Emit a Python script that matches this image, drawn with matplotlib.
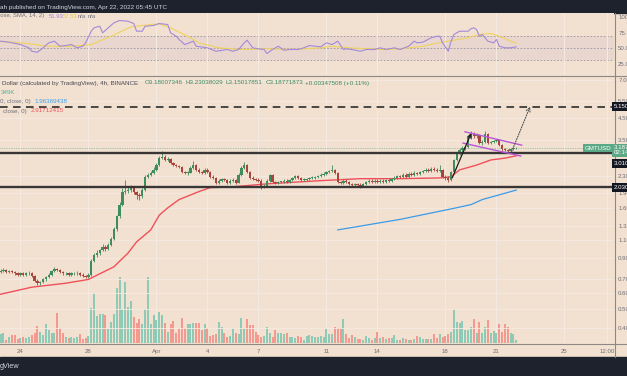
import matplotlib

matplotlib.use("Agg")
import matplotlib.pyplot as plt
import numpy as np
from matplotlib.lines import Line2D
from matplotlib.patches import Rectangle
from matplotlib.ticker import NullLocator
from matplotlib.transforms import blended_transform_factory


# 4h candles, Mar 22 20:00 UTC .. Apr 22 04:00 UTC
firstOpen = 0.76
closes = [
    0.77, 0.78, 0.76, 0.77, 0.76, 0.75, 0.74, 0.75, 0.74, 0.75,
    0.75, 0.73, 0.69, 0.67, 0.68, 0.70, 0.72, 0.74, 0.77, 0.79,
    0.78, 0.76, 0.75, 0.75, 0.74, 0.75, 0.75, 0.75, 0.74, 0.73,
    0.72, 0.74, 0.87, 0.93, 0.95, 0.98, 1.02, 0.99, 1.04, 1.12,
    1.25, 1.45, 1.66, 1.93, 1.95, 1.97, 2.00, 1.93, 1.85, 1.83,
    1.97, 2.29, 2.34, 2.40, 2.48, 2.62, 2.84, 2.88, 2.78, 2.81,
    2.68, 2.62, 2.59, 2.57, 2.42, 2.40, 2.40, 2.54, 2.62, 2.48,
    2.42, 2.40, 2.48, 2.42, 2.29, 2.26, 2.14, 2.19, 2.24, 2.21,
    2.14, 2.19, 2.21, 2.14, 2.34, 2.54, 2.62, 2.42, 2.26, 2.24,
    2.21, 2.19, 2.04, 2.07, 2.19, 2.34, 2.16, 2.14, 2.16, 2.16,
    2.19, 2.16, 2.21, 2.26, 2.32, 2.26, 2.21, 2.21, 2.24, 2.26,
    2.26, 2.29, 2.32, 2.34, 2.37, 2.42, 2.45, 2.48, 2.40, 2.16,
    2.14, 2.19, 2.16, 2.11, 2.09, 2.11, 2.09, 2.07, 2.11, 2.16,
    2.19, 2.16, 2.19, 2.16, 2.19, 2.16, 2.21, 2.19, 2.24, 2.26,
    2.32, 2.29, 2.34, 2.29, 2.37, 2.34, 2.40, 2.37, 2.42, 2.45,
    2.48, 2.45, 2.51, 2.48, 2.45, 2.48, 2.29, 2.26, 2.21, 2.42,
    2.78, 3.01, 3.12, 3.19, 3.23, 3.62, 3.75, 3.66, 3.71, 3.38,
    3.42, 3.75, 3.38, 3.42, 3.46, 3.50, 3.30, 3.15, 3.12, 3.08,
    3.15, 3.18007, 3.18772,
]
highs = [
    0.79, 0.80, 0.79, 0.78, 0.78, 0.77, 0.76, 0.76, 0.76, 0.76,
    0.77, 0.76, 0.74, 0.70, 0.69, 0.71, 0.73, 0.75, 0.78, 0.81,
    0.80, 0.79, 0.77, 0.76, 0.76, 0.76, 0.76, 0.77, 0.76, 0.75,
    0.74, 0.75, 0.89, 0.95, 0.98, 1.00, 1.05, 1.04, 1.06, 1.14,
    1.28, 1.48, 1.72, 2.00, 2.20, 2.05, 2.08, 2.03, 1.95, 1.90,
    2.00, 2.33, 2.40, 2.45, 2.55, 2.68, 2.90, 3.08, 2.93, 2.88,
    2.84, 2.72, 2.66, 2.63, 2.60, 2.46, 2.45, 2.58, 2.75, 2.65,
    2.52, 2.46, 2.52, 2.52, 2.45, 2.33, 2.29, 2.22, 2.27, 2.27,
    2.24, 2.22, 2.25, 2.24, 2.38, 2.58, 2.72, 2.65, 2.45, 2.30,
    2.27, 2.25, 2.22, 2.11, 2.22, 2.37, 2.36, 2.19, 2.19, 2.19,
    2.22, 2.22, 2.24, 2.29, 2.35, 2.34, 2.28, 2.25, 2.27, 2.29,
    2.30, 2.32, 2.35, 2.38, 2.41, 2.46, 2.49, 2.62, 2.51, 2.42,
    2.19, 2.22, 2.22, 2.18, 2.14, 2.14, 2.14, 2.12, 2.14, 2.19,
    2.22, 2.22, 2.22, 2.22, 2.22, 2.22, 2.24, 2.24, 2.27, 2.30,
    2.35, 2.35, 2.38, 2.38, 2.41, 2.41, 2.44, 2.43, 2.46, 2.49,
    2.52, 2.52, 2.55, 2.56, 2.53, 2.62, 2.50, 2.33, 2.30, 2.45,
    2.82, 3.06, 3.18, 3.25, 3.30, 3.68, 3.90, 3.82, 3.80, 3.74,
    3.50, 3.88, 3.78, 3.48, 3.52, 3.56, 3.53, 3.33, 3.20, 3.16,
    3.19, 3.22, 3.23038,
]
lows = [
    0.75, 0.76, 0.75, 0.75, 0.75, 0.74, 0.73, 0.73, 0.73, 0.73,
    0.74, 0.72, 0.68, 0.66, 0.66, 0.67, 0.69, 0.71, 0.73, 0.76,
    0.77, 0.75, 0.74, 0.74, 0.73, 0.73, 0.74, 0.74, 0.73, 0.72,
    0.71, 0.71, 0.73, 0.86, 0.91, 0.93, 0.97, 0.97, 0.98, 1.03,
    1.10, 1.23, 1.43, 1.64, 1.88, 1.90, 1.93, 1.88, 1.78, 1.76,
    1.80, 1.95, 2.25, 2.30, 2.37, 2.45, 2.60, 2.80, 2.74, 2.74,
    2.64, 2.58, 2.55, 2.52, 2.38, 2.36, 2.35, 2.38, 2.50, 2.45,
    2.38, 2.36, 2.37, 2.38, 2.26, 2.22, 2.10, 2.11, 2.16, 2.17,
    2.10, 2.11, 2.16, 2.11, 2.12, 2.31, 2.50, 2.38, 2.22, 2.20,
    2.17, 2.15, 1.98, 2.00, 2.05, 2.16, 2.13, 2.10, 2.11, 2.12,
    2.13, 2.13, 2.13, 2.18, 2.23, 2.22, 2.18, 2.17, 2.18, 2.21,
    2.22, 2.23, 2.26, 2.29, 2.31, 2.34, 2.39, 2.42, 2.36, 2.12,
    2.10, 2.11, 2.13, 2.08, 2.06, 2.06, 2.05, 2.02, 2.04, 2.08,
    2.13, 2.13, 2.13, 2.13, 2.13, 2.13, 2.13, 2.16, 2.16, 2.21,
    2.23, 2.25, 2.26, 2.26, 2.26, 2.31, 2.31, 2.33, 2.34, 2.38,
    2.41, 2.41, 2.42, 2.44, 2.41, 2.42, 2.25, 2.21, 2.15, 2.18,
    2.40, 2.74, 2.96, 3.06, 3.12, 3.20, 3.55, 3.58, 3.60, 3.33,
    3.32, 3.40, 3.34, 3.33, 3.38, 3.42, 3.25, 3.10, 3.07, 3.03,
    3.05, 3.12, 3.15018,
]
volumesK = [
    900, 1000, 300, 600, 800, 800, 400, 500, 600, 500, 600, 800,
    1000, 1700, 1100, 800, 1900, 1300, 1000, 1000, 3000, 1500, 1000, 600,
    500, 600, 500, 600, 900, 400, 500, 700, 3500, 5000, 2700, 2900,
    2900, 2800, 1400, 2100, 2900, 5500, 6600, 3400, 6100, 3600, 4200, 2600,
    2000, 2400, 1900, 3400, 6600, 1900, 2800, 2300, 3100, 2800, 2000, 1100,
    1900, 2200, 1000, 1500, 2500, 1500, 1900, 1900, 2000, 2000, 2000, 1300,
    1900, 1500, 700, 800, 900, 2100, 1600, 1000, 600, 700, 1500, 1000,
    900, 2500, 1500, 2400, 1800, 1800, 1100, 800, 600, 700, 1600, 1000,
    600, 1300, 1000, 1000, 900, 1000, 600, 600, 500, 700, 600, 300,
    700, 800, 700, 600, 600,
    700, 600, 1400, 900, 900, 1600, 1500, 1500, 2400, 900, 500, 800,
    600, 400, 400, 300, 700, 500, 300, 500, 1100, 500, 600, 400,
    500, 500, 800, 300, 300, 500, 400, 300, 300, 400, 700, 600,
    400, 400, 400, 400, 900, 500, 900, 600, 700, 900, 1100, 3400,
    2100, 2000, 2200, 1300, 1300, 1600, 2400, 1000, 2100, 1000, 1600, 2300,
    1000, 1200, 1000, 1900, 1100, 1900, 1600, 1000, 900, 349,
]

# moving averages read at selected candles
redMaIndex = [0, 11, 23, 31, 40, 45, 48, 53, 56, 59, 63, 70, 74, 82, 94, 106,
              113, 127, 141, 155, 159, 162, 168, 173, 178, 182]
redMaValues = [0.59, 0.64, 0.67, 0.70, 0.81, 0.95, 1.08, 1.24, 1.47, 1.60, 1.76,
               1.93, 2.02, 2.04, 2.11, 2.16, 2.19, 2.24, 2.24, 2.26, 2.29, 2.48,
               2.62, 2.78, 2.84, 2.917]
blueMaIndex = [119, 141, 159, 166, 170, 182]
blueMaValues = [1.24, 1.40, 1.58, 1.66, 1.76, 1.9637]

# RSI(14) and its SMA
rsiIndex = [0, 3, 7, 10, 11, 13, 15, 17, 19, 21, 23, 25, 27, 29, 30, 32, 33, 35,
            36, 38, 40, 42, 45, 47, 48, 50, 51, 54, 56, 59, 60, 62, 63, 65, 68,
            69, 73, 76, 80, 82, 84, 86, 87, 89, 91, 93, 94, 96, 98, 100, 102,
            105, 107, 109, 113, 115, 117, 119, 121, 122, 124, 127, 129, 132,
            134, 136, 139, 141, 144, 146, 147, 149, 152, 154, 155, 156, 158,
            159, 160, 162, 165, 166, 167, 168, 169, 170, 172, 174, 175, 176,
            178, 180, 182]
rsiValues = [61, 59.4, 55.6, 50.3, 44.8, 43.2, 50.3, 58.4, 61, 52.9, 54, 55.6,
             50.3, 52.9, 58.4, 77.1, 82.6, 85.2, 74.5, 82.6, 90.6, 94.4, 93.2,
             89.5, 77.1, 77.1, 85.2, 86.3, 89.5, 87.9, 74.5, 69, 63.7, 55.6, 61,
             52.9, 50.3, 44.8, 47.6, 44.8, 47.6, 58.4, 62.6, 50.3, 48.7, 47.6,
             41.1, 47.6, 52.9, 46.5, 47.6, 47.6, 50.3, 54, 51.9, 58.4, 55.6, 61,
             47.6, 48.7, 47.6, 44.8, 47.6, 47.6, 50.3, 47.6, 50.3, 47.6, 52.9,
             61, 58.4, 59.4, 66.5, 69, 69, 58.4, 44.8, 61, 71.8, 77.1, 77.1, 81,
             82.6, 79.8, 69, 71.8, 61, 58.4, 63.7, 52.9, 50.3, 50.3, 51.93]
rsiMaIndex = [0, 7, 17, 25, 32, 39, 46, 53, 56, 60, 66, 70, 77, 85, 94, 103, 113,
              117, 123, 135, 141, 149, 156, 165, 169, 173, 176, 182]
rsiMaValues = [60.5, 58.4, 52.9, 52.9, 55.6, 69, 84.2, 87.9, 89, 82.6, 69, 58.4,
               50.3, 47.6, 48.7, 47.6, 50.3, 52.9, 50.3, 47.6, 48.7, 52.9, 59.4,
               66.5, 71.8, 73.4, 69, 57.53]

# axis ticks
dateTickIndex = [7, 31, 55, 73, 91, 115, 133, 157, 175, 199, 214]
dateTickLabels = ["24", "28", "Apr", "4", "7", "11", "14", "18", "21", "25", "12:00"]
priceTickValues = [7.0, 5.5, 4.5, 3.5, 2.3, 1.9, 1.6, 1.3, 1.1, 0.9, 0.7, 0.6, 0.5, 0.4]
priceTickLabels = ["7.0000", "5.5000", "4.5000", "3.5000", "2.3000", "1.9000",
                   "1.6000", "1.3000", "1.1000", "0.9000", "0.7000", "0.6000",
                   "0.5000", "0.4000"]
rsiTickValues = [100, 75, 50, 25]
rsiTickLabels = ["100.00", "75.00", "50.00", "25.00"]

# drawings
levelTarget = 5.15
levelResistance = 3.01
levelSupport = 2.03
flagUpper = [(163.9, 3.85), (183.9, 3.30)]
flagLower = [(163.2, 3.38), (183.6, 2.91)]
poleArrow = [(159.4, 2.26), (166.1, 3.79)]
targetArrow = [(180.4, 3.07), (186.9, 5.15)]

figWidthPx = 627.0
figHeightPx = 376.0
fontName = "Liberation Sans"
backgroundColor = "#f2e1d1"
darkColor = "#1e222d"
upColor = "#3f8c5d"
downColor = "#a9443a"
upVolColor = "#8fcab6"
downVolColor = "#f29a8f"
axisTextColor = "#6f6f78"
gridColor = "#f6ebe2"


# Converts one pixel box into a figure-fraction rectangle.
def pxRect(leftPx, topPx, widthPx, heightPx):
    return [
        leftPx / figWidthPx,
        1.0 - (topPx + heightPx) / figHeightPx,
        widthPx / figWidthPx,
        heightPx / figHeightPx,
    ]


# Adds one figure-level text at pixel coordinates.
def pxText(fig, xPx, yPx, text, color, size=4.5, ha="left"):
    fig.text(
        xPx / figWidthPx,
        1.0 - yPx / figHeightPx,
        text,
        color=color,
        fontsize=size,
        family=fontName,
        ha=ha,
        va="center",
    )


# Adds one figure-level line in pixel coordinates.
def pxLine(fig, xPx, yPx, color, width):
    fig.add_artist(
        Line2D(
            [x / figWidthPx for x in xPx],
            [1.0 - y / figHeightPx for y in yPx],
            transform=fig.transFigure,
            color=color,
            linewidth=width,
        )
    )


# Draws candle wicks and bodies.
def plotCandles(ax, opens, highValues, lowValues, closeValues):
    candleIndex = np.arange(closeValues.size)
    isUp = closeValues >= opens
    colors = np.where(isUp, upColor, downColor)
    ax.vlines(candleIndex, lowValues, highValues, colors=colors, linewidth=0.6, zorder=3)
    bodyBottoms = np.minimum(opens, closeValues)
    bodyTops = np.maximum(np.maximum(opens, closeValues), bodyBottoms * 1.008)
    ax.bar(
        candleIndex,
        bodyTops - bodyBottoms,
        bottom=bodyBottoms,
        width=0.78,
        color=colors,
        linewidth=0,
        zorder=4,
    )


# Draws the right-edge price box.
def priceBox(ax, value, text, faceColor, xAxes=1.0, ha="left"):
    rightTrans = blended_transform_factory(ax.transAxes, ax.transData)
    ax.text(
        xAxes,
        value,
        text,
        transform=rightTrans,
        ha=ha,
        va="center",
        fontsize=4.4,
        family=fontName,
        color="white",
        linespacing=0.95,
        bbox=dict(boxstyle="square,pad=0.3", facecolor=faceColor, edgecolor="none"),
        clip_on=False,
        zorder=10,
    )


def runChart():
    closeValues = np.array(closes)
    highValues = np.array(highs)
    lowValues = np.array(lows)
    opens = np.concatenate([[firstOpen], closeValues[:-1]])
    volumeValues = np.array(volumesK, dtype=float)
    assert closeValues.size == highValues.size == lowValues.size == volumeValues.size
    candleIndex = np.arange(closeValues.size)
    xLimits = (-0.21, 216.5)

    fig = plt.figure(figsize=(figWidthPx / 100, figHeightPx / 100), dpi=100)
    fig.patch.set_facecolor(backgroundColor)

    # dark top and bottom bars
    fig.add_artist(Rectangle((0, 1 - 13 / figHeightPx), 1, 13 / figHeightPx,
                             transform=fig.transFigure, color=darkColor, zorder=0))
    fig.add_artist(Rectangle((0, 0), 1, 19 / figHeightPx,
                             transform=fig.transFigure, color=darkColor, zorder=0))

    # RSI pane
    axRsi = fig.add_axes(pxRect(0, 13, 614, 62))
    axRsi.set_facecolor(backgroundColor)
    axRsi.set_xlim(*xLimits)
    axRsi.set_ylim(6.45, 106.5)
    axRsi.axhspan(30, 70, color="#e9d6cf", linewidth=0, zorder=0)
    for level in [70, 50, 30]:
        axRsi.axhline(level, color="#9a95a3", linewidth=0.6, dashes=(2.0, 2.0), zorder=1)
    axRsi.plot(rsiMaIndex, rsiMaValues, color="#efd25c", linewidth=0.8, zorder=2)
    axRsi.plot(rsiIndex, rsiValues, color="#a28ad8", linewidth=0.8, zorder=3)
    axRsi.set_xticks(dateTickIndex)
    axRsi.set_xticklabels([])
    axRsi.set_yticks(rsiTickValues)
    axRsi.set_yticklabels(rsiTickLabels)
    axRsi.yaxis.tick_right()
    axRsi.tick_params(length=0, pad=3, labelsize=4.4, labelcolor=axisTextColor)
    for label in axRsi.get_yticklabels():
        label.set_family(fontName)
    axRsi.grid(axis="x", color=gridColor, linewidth=0.7, zorder=0)
    for spine in axRsi.spines.values():
        spine.set_visible(False)

    # volume pane sits under the price pane
    axVol = fig.add_axes(pxRect(0, 76, 614, 267))
    axVol.set_zorder(1)
    axVol.set_xlim(*xLimits)
    axVol.set_ylim(0, 26700)
    volColors = np.where(closeValues >= opens, upVolColor, downVolColor)
    axVol.bar(candleIndex, volumeValues, width=0.72, color=volColors, linewidth=0)
    axVol.set_xticks(dateTickIndex)
    axVol.set_xticklabels([])
    axVol.set_yticks([])
    axVol.tick_params(length=0)
    axVol.grid(axis="x", color=gridColor, linewidth=0.7)
    axVol.set_axisbelow(True)
    axVol.set_facecolor(backgroundColor)
    for spine in axVol.spines.values():
        spine.set_visible(False)

    # price pane
    axMain = fig.add_axes(pxRect(0, 76, 614, 267))
    axMain.set_zorder(2)
    axMain.patch.set_visible(False)
    axMain.set_yscale("log")
    axMain.set_xlim(*xLimits)
    axMain.set_ylim(0.336, 7.33)
    axMain.yaxis.set_minor_locator(NullLocator())
    axMain.set_yticks(priceTickValues)
    axMain.set_yticklabels(priceTickLabels)
    axMain.yaxis.tick_right()
    axMain.set_xticks(dateTickIndex)
    axMain.set_xticklabels(dateTickLabels)
    axMain.tick_params(length=0, labelsize=4.4, labelcolor=axisTextColor)
    axMain.tick_params(axis="y", pad=3)
    axMain.tick_params(axis="x", pad=4)
    for label in axMain.get_xticklabels() + axMain.get_yticklabels():
        label.set_family(fontName)
    axMain.grid(axis="y", color=gridColor, linewidth=0.6)
    axMain.set_axisbelow(True)
    for spine in axMain.spines.values():
        spine.set_visible(False)

    axMain.plot(redMaIndex, redMaValues, color="#f0505a", linewidth=1.0, zorder=2)
    axMain.plot(blueMaIndex, blueMaValues, color="#3c9be8", linewidth=0.9, zorder=2)
    plotCandles(axMain, opens, highValues, lowValues, closeValues)

    axMain.axhline(levelTarget, color="#1c1c1c", linewidth=1.1, dashes=(5.0, 3.5), zorder=5)
    axMain.axhline(levelResistance, color="#3a3636", linewidth=1.7, zorder=5)
    axMain.axhline(levelSupport, color="#3a3636", linewidth=1.7, zorder=5)
    axMain.axhline(closeValues[-1], color="#5aa884", linewidth=0.5, dashes=(1, 1.5), zorder=2)

    for flagLine in [flagUpper, flagLower]:
        axMain.plot(
            [flagLine[0][0], flagLine[1][0]],
            [flagLine[0][1], flagLine[1][1]],
            color="#b756d8",
            linewidth=1.0,
            zorder=6,
        )
    axMain.annotate(
        "",
        xy=poleArrow[1],
        xytext=poleArrow[0],
        arrowprops=dict(arrowstyle="->", color="#1c1c1c", linewidth=0.9,
                        shrinkA=0, shrinkB=0, mutation_scale=6),
        zorder=7,
    )
    axMain.annotate(
        "",
        xy=targetArrow[1],
        xytext=targetArrow[0],
        arrowprops=dict(arrowstyle="->", color="#555555", linewidth=0.8,
                        linestyle=(0, (1, 1.3)), shrinkA=0, shrinkB=0, mutation_scale=7),
        zorder=7,
    )

    # price-scale boxes
    priceBox(axMain, levelTarget, "5.1500", "#131722")
    priceBox(axMain, closeValues[-1] * 0.975, "3.1877\n02:14:12", "#5aa884")
    priceBox(axMain, 2.66, "3.0100", "#131722")
    priceBox(axMain, levelSupport, "2.0300", "#131722")
    priceBox(axMain, closeValues[-1], "GMTUSD", "#5aa884", xAxes=0.996, ha="right")

    # frame lines
    pxLine(fig, [0, 627], [75.5, 75.5], "#8e8884", 0.8)
    pxLine(fig, [0, 627], [343.5, 343.5], "#8e8884", 0.8)
    pxLine(fig, [614.5, 614.5], [13, 357], "#8e8884", 0.8)

    # header, legends, footer
    pxText(fig, 0, 7, "ah published on TradingView.com, Apr 22, 2022 05:45 UTC", "#d1d4dc", size=4.6)
    pxText(fig, -4, 16, "close, SMA, 14, 2)", axisTextColor, size=4.2)
    pxText(fig, 49, 16, "51.93", "#9a80d6", size=4.2)
    pxText(fig, 63, 16, "57.53", "#e8c64a", size=4.2)
    pxText(fig, 78, 16, "n/a", axisTextColor, size=4.2)
    pxText(fig, 88, 16, "n/a", axisTextColor, size=4.2)
    pxText(fig, 2, 83, "Dollar (calculated by TradingView), 4h, BINANCE", "#4a4a52")
    pxText(fig, 145, 83, "O3.18007346", "#3d8a5c")
    pxText(fig, 185, 83, "H3.23038029", "#3d8a5c")
    pxText(fig, 226, 83, "L3.15017851", "#3d8a5c")
    pxText(fig, 266, 83, "C3.18771873", "#3d8a5c")
    pxText(fig, 305, 83, "+0.00347508 (+0.11%)", "#3d8a5c")
    pxText(fig, 1, 92, "349K", "#4fb39b")
    pxText(fig, 0, 102, "0, close, 0)", axisTextColor)
    pxText(fig, 34, 102, "1.96369438", "#3c9be8")
    pxText(fig, 3, 111, "close, 0)", axisTextColor)
    pxText(fig, 31, 111, "2.91712415", "#f0505a")
    pxText(fig, 0, 367, "gView", "#d1d4dc", size=5.2)

    fig.savefig("out.png", dpi=100, facecolor=fig.get_facecolor())
    plt.close(fig)


if __name__ == "__main__":
    runChart()
